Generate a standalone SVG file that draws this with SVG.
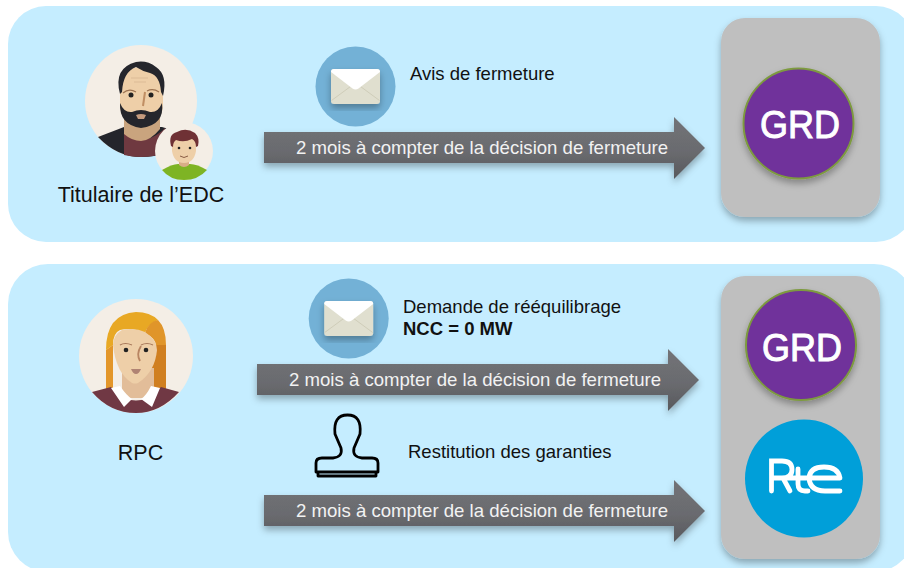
<svg xmlns="http://www.w3.org/2000/svg" width="904" height="568" viewBox="0 0 904 568">
<style>
text{font-family:"Liberation Sans",Arial,sans-serif;fill:#111}
.lab{font-size:18.500px}
.big{font-size:21.500px}
.arrtxt{font-size:18.600px;fill:#f2f2f2}
.panel{fill:#c5edff}
.box{fill:#bfbfbf}
.grd{fill:#70309b;stroke:#7d9a3f;stroke-width:2}
.logo{font-size:39px;fill:#fff;stroke:#fff;stroke-width:1}
.skin{fill:#eecfa8}
.bg{fill:#f4eee6}
.arr{fill:url(#ag);filter:url(#sh)}
</style>
<defs>
<linearGradient id="ag" x1="0" y1="0" x2="0" y2="1"><stop offset="0" stop-color="#727377"/><stop offset=".55" stop-color="#6a6b6f"/><stop offset="1" stop-color="#58595d"/></linearGradient>
<filter id="sh" x="-20%" y="-20%" width="140%" height="140%"><feDropShadow dx="0" dy="4" stdDeviation="3.500" flood-color="#000" flood-opacity="0.3"/></filter>
<g id="env">
<circle r="40" fill="#73b1d6"/>
<rect x="-24.500" y="-17.500" width="49" height="35" rx="3" fill="#e0dfcf" filter="url(#sh)"/>
<path d="M-24 14L-5 0M24 14L5 0" stroke="#cfcdb9" fill="none"/>
<path d="M-24.500 -14.500Q-24.500 -17.500 -21.500 -17.500H21.500Q24.500 -17.500 24.500 -14.500L3 2Q0 4 -3 2Z" fill="#fff"/>
</g>
</defs>

<rect class="panel" x="8" y="6" width="906" height="236" rx="38"/>
<rect class="panel" x="8" y="264" width="906" height="308" rx="40"/>

<g id="titulaire">
<circle class="bg" cx="141" cy="101" r="56"/>
<path d="M98 137L124 127H162L172 130V152Q155 157 141 157Q117 157 98 137Z" fill="#24252b"/>
<path d="M124 133Q141 148 162 131L165 128V154Q150 157 141 157Q132 157 124 155Z" fill="#6f3940"/>
<path d="M124 118H160V129Q150 141 141 141Q132 141 124 134Z" fill="#c9a47e"/>
<path d="M120 85Q120 68 141 67Q163 68 163 85V104Q163 124 141 126Q120 124 120 104Z" class="skin"/>
<path d="M120 103Q124 113 132 112Q141 108 150 112Q158 113 162 103Q165 125 141 128Q119 125 120 103Z" fill="#25262c"/>
<path d="M136 115Q141 113 146 115L144 119H138Z" fill="#c49b7e"/>
<path d="M120 94Q113 68 136 62Q147 60 156 67Q168 75 163 96L161 92Q160 76 150 73Q142 71 136 67Q123 72 122 92Z" fill="#25262c"/>
<path d="M131 78H148M134 82H146" stroke="#dcbb96" stroke-width="1.200" fill="none"/>
<circle cx="131" cy="95" r="2.500" fill="#222"/><circle cx="151" cy="95" r="2.500" fill="#222"/>
<path d="M123 93Q129 88 136 92M147 91Q153 88 159 92" stroke="#9d7452" stroke-width="1.200" fill="none"/>
<path d="M145 92L143 106" stroke="#c08e63" stroke-width="2" fill="none"/>
<circle class="bg" cx="184" cy="151" r="29"/>
<path d="M162 170Q172 164 178 164H190Q197 164 207 170Q198 180 184 180Q170 180 162 170Z" fill="#7eb424"/>
<path d="M179 158H189V165Q184 169 179 165Z" fill="#d8ad87"/>
<path d="M172 142Q172 133 184 132Q196 133 196 142V151Q194 163 184 163Q174 163 172 151Z" class="skin"/>
<path d="M171 146Q168 134 177 132Q186 127 195 133Q200 138 198 146L196 147Q196 141 192 139Q184 143 176 140Q173 142 173 147Z" fill="#6f3135"/>
<circle cx="179" cy="148" r="1.300" fill="#222"/><circle cx="190" cy="148" r="1.300" fill="#222"/>
<path d="M180 156Q184 159 188 156" stroke="#8a5d45" fill="none"/>
<text x="141" y="202" text-anchor="middle" class="big">Titulaire de l’EDC</text>
</g>

<g id="rpc">
<circle class="bg" cx="136" cy="356" r="57"/>
<path d="M106 389V350L113 345V389Z" fill="#e3962a"/>
<path d="M106 350Q106 314 136 312Q150 312 158 320Q147 325 145 333Q132 327 120 330Q113 333 113 345Z" fill="#e8a824"/>
<path d="M145 333Q148 322 158 320Q166 328 166 345H156Q155 338 145 333Z" fill="#e0952a"/>
<path d="M155 345H166V389H148Z" fill="#d07f20"/>
<path d="M122 368H154V398H122Z" fill="#e2bd99"/>
<path d="M113 345Q113 335 122 330Q135 327 145 332Q157 340 157 350Q155 372 138 383Q135 384 132 383Q116 373 113 345Z" class="skin"/>
<path d="M92 392L111 387Q136 414 161 387L179 392Q160 413 136 413Q110 413 92 392Z" fill="#703844"/>
<path d="M111 388L120 386Q127 396 132 399L124 407ZM160 388L151 386Q146 396 141 399L152 407Z" fill="#fff"/>
<circle cx="126" cy="350" r="2.300" fill="#222"/><circle cx="146" cy="350" r="2.300" fill="#222"/>
<path d="M120 345Q125 342 132 345M141 345Q147 342 153 345" stroke="#a8795b" stroke-width="1.200" fill="none"/>
<path d="M141 346Q136 354 140 361" stroke="#b88562" stroke-width="1.800" fill="none"/>
<path d="M131 369H141Q139 374 136 374Q133 374 131 369Z" fill="#b08373"/>
<text x="140.500" y="460" text-anchor="middle" class="big">RPC</text>
</g>

<g id="grd-box-1">
<rect class="box" x="721" y="18" width="159" height="199" rx="24" filter="url(#sh)"/>
<circle cx="798.500" cy="123.500" r="55" class="grd" filter="url(#sh)"/>
<text x="800" y="138" text-anchor="middle" class="logo" textLength="80" lengthAdjust="spacingAndGlyphs">GRD</text>
</g>
<g id="grd-box-2">
<rect class="box" x="721" y="276" width="159" height="283" rx="24" filter="url(#sh)"/>
<circle cx="801" cy="345" r="55" class="grd" filter="url(#sh)"/>
<text x="802" y="361" text-anchor="middle" class="logo" textLength="80" lengthAdjust="spacingAndGlyphs">GRD</text>
<g id="rte">
<circle cx="804" cy="478.500" r="59" fill="#009fd9"/>
<path d="M771.500 491V461H782Q792 461 792 469.500Q792 478 782 478H771.500M783 478L790 491M771.500 478H840M798 469V484Q798 491 805 491H808M809 478Q810 467 824 467Q838 467 840 478M809 478Q810 491 825 491H840" stroke="#fff" stroke-width="4.800" fill="none" stroke-linecap="round"/>
</g>
</g>

<g id="connectors">
<g id="a1"><path class="arr" d="M264 132H674V117L705 148L674 179V163H264Z"/><text x="482" y="154" text-anchor="middle" class="arrtxt">2 mois à compter de la décision de fermeture</text></g>
<g id="a2"><path class="arr" d="M257 364H668V349L699 380L668 411V395H257Z"/><text x="475" y="386" text-anchor="middle" class="arrtxt">2 mois à compter de la décision de fermeture</text></g>
<g id="a3"><path class="arr" d="M264 495H674V480L705 511L674 542V526H264Z"/><text x="482" y="517" text-anchor="middle" class="arrtxt">2 mois à compter de la décision de fermeture</text></g>
</g>

<g id="mail1"><use href="#env" x="355.500" y="86.500"/><text x="410" y="80" class="lab">Avis de fermeture</text></g>
<g id="mail2"><use href="#env" x="348.700" y="318.500"/><text x="403" y="313" class="lab">Demande de rééquilibrage</text><text x="403" y="335" class="lab" style="font-weight:700">NCC = 0 MW</text></g>
<g id="stamp">
<path d="M316 472V463Q316 458 322 458H333Q343 457 341 448Q338 441 335 434Q333 415 347.500 415Q362 415 360 434Q357 441 354 448Q352 457 362 458H372Q378 458 378 463V472ZM318 472V476H376V472" fill="none" stroke="#000" stroke-width="2.800" stroke-linejoin="round"/>
<text x="408" y="458" class="lab">Restitution des garanties</text>
</g>
</svg>
